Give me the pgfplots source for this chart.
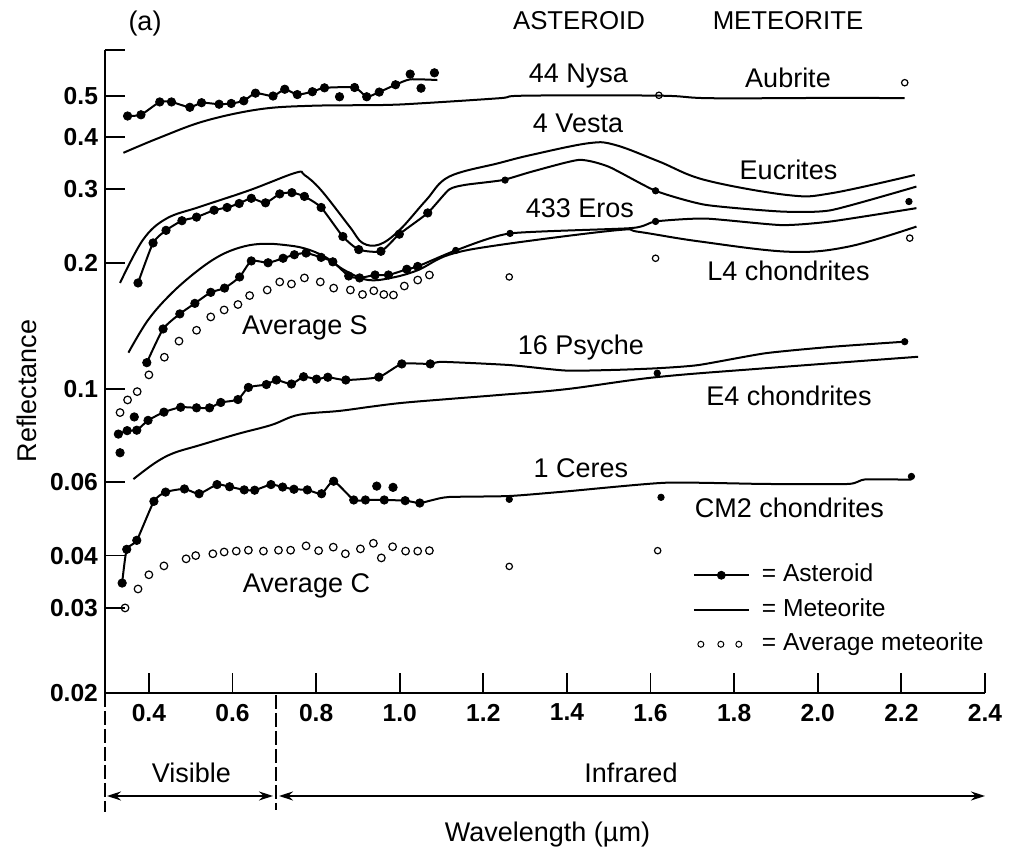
\documentclass[border=0pt]{standalone}
\usepackage{fontspec}
\setmainfont{Liberation Sans}
\usepackage{pgfplots}
\pgfplotsset{compat=1.18}
\usetikzlibrary{arrows.meta}
\newcommand{\tickfont}{\fontsize{12.3}{14}\selectfont\bfseries}
\newcommand{\lblfont}{\fontsize{13.5}{16}\selectfont}
\newcommand{\capfont}{\fontsize{12.9}{15}\selectfont}
\newcommand{\legfont}{\fontsize{12.3}{14}\selectfont}
\pgfplotsset{
  acurve/.style={black, line width=1pt, no markers, smooth, tension=0.35},
  mcurve/.style={black, line width=1pt, no markers, smooth, tension=0.6},
  dots/.style={black, only marks, mark=*, mark size=2.1pt},
  rdots/.style={black, only marks, mark=*, mark size=1.6pt},
  odots/.style={black, only marks, mark=o, mark size=1.9pt, mark options={line width=0.6pt}},
  rodots/.style={black, only marks, mark=o, mark size=1.6pt, mark options={line width=0.6pt}},
}
\begin{document}
\begin{tikzpicture}
\useasboundingbox (0,0) rectangle (509.5pt,427.5pt);
\begin{axis}[
  at={(52.5pt,81pt)}, anchor=south west,
  scale only axis, width=440pt, height=321.5pt,
  xmin=0.295, xmax=2.4, ymin=0.0188, ymax=0.644, ymode=log,
  axis x line=bottom, axis y line=left,
  axis line style={line width=1pt, -},
  xtick={0.4,0.6,0.8,1.0,1.2,1.4,1.6,1.8,2.0,2.2,2.4},
  xticklabels={0.4,0.6,0.8,1.0,1.2,1.4,1.6,1.8,2.0,2.2,2.4},
  ytick={0.0188,0.03,0.04,0.06,0.1,0.2,0.3,0.4,0.5,0.644},
  yticklabels={0.02,0.03,0.04,0.06,0.1,0.2,0.3,0.4,0.5,{}},
  yminorticks=false, xminorticks=false,
  tick align=inside, major tick length=10pt,
  tick style={black, line width=0.9pt},
  tick label style={font=\tickfont},
  xticklabel style={yshift=-2pt},
  clip=false,
  legend style={at={(0.668,0.201)}, anchor=north west, draw=none, fill=none,
    inner sep=0pt, outer sep=0pt, font=\legfont, row sep=5.75pt, column sep=6pt,
    nodes={inner sep=0pt, text height=9pt, text depth=2.5pt}},
  legend cell align=left,
]
\addlegendimage{legend image code/.code={\draw[black,line width=1pt] (0pt,0pt) -- (27.5pt,0pt); \fill[black] (13.75pt,0pt) circle (2pt);}}
\addlegendentry{= Asteroid}
\addlegendimage{legend image code/.code={\draw[black,line width=1pt] (0pt,0pt) -- (27.5pt,0pt);}}
\addlegendentry{= Meteorite}
\addlegendimage{legend image code/.code={\draw[black,line width=0.5pt] (3.5pt,0pt) circle (1.5pt) (13.5pt,0pt) circle (1.5pt) (22.5pt,0pt) circle (1.5pt);}}
\addlegendentry{= Average meteorite}

% ---- 44 Nysa (asteroid)
\addplot[acurve] table {
0.349 0.448
0.381 0.451
0.426 0.484
0.454 0.484
0.498 0.470
0.526 0.482
0.568 0.478
0.597 0.480
0.627 0.487
0.655 0.508
0.697 0.500
0.725 0.519
0.755 0.504
0.791 0.512
0.820 0.523
0.892 0.524
0.921 0.498
0.951 0.511
0.990 0.532
1.025 0.548
1.090 0.546
};
\addplot[dots] table {
0.349 0.448
0.381 0.451
0.426 0.484
0.454 0.484
0.498 0.470
0.526 0.482
0.568 0.478
0.597 0.480
0.627 0.487
0.655 0.508
0.697 0.500
0.725 0.519
0.755 0.504
0.791 0.512
0.820 0.523
0.856 0.498
0.892 0.524
0.921 0.498
0.951 0.511
0.990 0.532
1.025 0.564
1.051 0.522
1.083 0.568
};
% ---- Aubrite (meteorite)
\addplot[mcurve] table {
0.339 0.366
0.426 0.398
0.534 0.436
0.665 0.465
0.791 0.474
0.963 0.476
1.060 0.481
1.238 0.494
1.301 0.501
1.620 0.501
1.746 0.494
2.056 0.495
2.208 0.494
};
\addplot[rodots] table {
1.620 0.502
2.208 0.538
};
% ---- Eucrites (meteorite)
\addplot[mcurve] table {
0.331 0.179
0.386 0.227
0.442 0.255
0.522 0.272
0.641 0.298
0.751 0.328
0.772 0.324
0.812 0.298
0.880 0.244
0.911 0.223
0.951 0.221
0.999 0.239
1.063 0.282
1.118 0.321
1.238 0.346
1.316 0.362
1.453 0.386
1.516 0.382
1.620 0.349
1.731 0.315
1.930 0.290
2.032 0.293
2.232 0.324
};
% ---- 4 Vesta (asteroid)
\addplot[acurve] table {
0.374 0.179
0.410 0.223
0.441 0.239
0.479 0.252
0.514 0.257
0.556 0.267
0.587 0.271
0.616 0.277
0.645 0.285
0.679 0.278
0.713 0.292
0.742 0.294
0.772 0.288
0.812 0.271
0.864 0.231
0.902 0.215
0.955 0.213
0.999 0.234
1.067 0.263
1.118 0.299
1.158 0.307
1.246 0.315
1.316 0.330
1.429 0.352
1.500 0.339
1.612 0.297
1.731 0.275
1.913 0.265
2.032 0.267
2.236 0.304
};
\addplot[dots] table {
0.374 0.179
0.410 0.223
0.441 0.239
0.479 0.252
0.514 0.257
0.556 0.267
0.587 0.271
0.616 0.277
0.645 0.285
0.679 0.278
0.713 0.292
0.742 0.294
0.772 0.288
0.812 0.271
0.864 0.231
0.902 0.215
0.955 0.213
0.999 0.234
1.067 0.263
};
\addplot[rdots] table {
1.252 0.315
1.612 0.297
2.218 0.280
};
% ---- 433 Eros (asteroid)
\addplot[acurve] table {
0.395 0.1155
0.434 0.139
0.474 0.151
0.510 0.160
0.548 0.170
0.581 0.174
0.617 0.185
0.645 0.202
0.685 0.200
0.721 0.205
0.748 0.209
0.776 0.211
0.812 0.206
0.840 0.201
0.878 0.186
0.904 0.184
0.941 0.187
0.973 0.187
1.017 0.193
1.043 0.196
1.134 0.214
1.264 0.235
1.555 0.242
1.612 0.251
1.731 0.255
1.913 0.246
2.032 0.251
2.236 0.270
};
\addplot[dots] table {
0.395 0.1155
0.434 0.139
0.474 0.151
0.510 0.160
0.548 0.170
0.581 0.174
0.617 0.185
0.645 0.202
0.685 0.200
0.721 0.205
0.748 0.209
0.776 0.211
0.812 0.206
0.840 0.201
0.878 0.186
0.904 0.184
0.941 0.187
0.973 0.187
1.017 0.193
1.043 0.196
};
\addplot[rdots] table {
1.134 0.214
1.264 0.235
1.612 0.251
};
% ---- L4 chondrites (meteorite)
\addplot[mcurve] table {
0.351 0.122
0.398 0.146
0.454 0.169
0.518 0.192
0.574 0.209
0.629 0.219
0.677 0.222
0.725 0.2205
0.772 0.2165
0.820 0.207
0.868 0.192
0.923 0.182
0.979 0.184
1.043 0.192
1.118 0.209
1.238 0.2205
1.516 0.239
1.572 0.237
1.715 0.225
1.930 0.2125
2.073 0.2185
2.236 0.244
};
% ---- Average S (average meteorite)
\addplot[odots] table {
0.331 0.0878
0.349 0.0941
0.372 0.0985
0.400 0.108
0.437 0.119
0.472 0.130
0.514 0.138
0.548 0.1485
0.580 0.1543
0.613 0.159
0.641 0.167
0.683 0.1722
0.713 0.180
0.741 0.178
0.772 0.184
0.810 0.180
0.842 0.174
0.882 0.1722
0.911 0.168
0.938 0.1715
0.962 0.168
0.985 0.1675
1.011 0.176
1.043 0.1819
1.071 0.187
};
\addplot[rodots] table {
1.262 0.185
1.612 0.205
2.220 0.229
};
% ---- 16 Psyche (asteroid)
\addplot[acurve] table {
0.327 0.078
0.348 0.0795
0.371 0.0797
0.398 0.0841
0.436 0.088
0.476 0.0904
0.514 0.0901
0.545 0.0901
0.572 0.0928
0.613 0.0943
0.638 0.1008
0.681 0.1024
0.705 0.1050
0.741 0.1027
0.770 0.1069
0.801 0.1055
0.828 0.1066
0.871 0.1050
0.950 0.1067
1.005 0.1147
1.073 0.1147
1.102 0.116
1.262 0.114
1.397 0.1106
1.516 0.1110
1.616 0.1120
1.715 0.114
1.874 0.1216
2.033 0.126
2.208 0.1296
};
\addplot[dots] table {
0.331 0.0704
0.327 0.078
0.348 0.0795
0.365 0.0857
0.371 0.0797
0.398 0.0841
0.436 0.088
0.476 0.0904
0.514 0.0901
0.545 0.0901
0.572 0.0928
0.613 0.0943
0.638 0.1008
0.681 0.1024
0.705 0.1050
0.741 0.1027
0.770 0.1069
0.801 0.1055
0.828 0.1066
0.871 0.1050
0.950 0.1067
1.005 0.1147
1.073 0.1147
};
\addplot[rdots] table {
1.616 0.109
2.208 0.1296
};
% ---- E4 chondrites (meteorite)
\addplot[mcurve] table {
0.363 0.0609
0.414 0.0665
0.458 0.0702
0.522 0.0734
0.613 0.0781
0.693 0.0820
0.758 0.0867
0.856 0.0886
0.932 0.0907
1.006 0.0926
1.118 0.0946
1.238 0.0967
1.397 0.0998
1.612 0.1066
1.874 0.1120
2.240 0.1193
};
% ---- 1 Ceres (asteroid) / CM2 chondrites
\addplot[acurve] table {
0.336 0.0344
0.347 0.0414
0.371 0.0435
0.412 0.0539
0.440 0.0567
0.485 0.0577
0.520 0.0562
0.563 0.0591
0.593 0.0584
0.628 0.0574
0.653 0.0573
0.692 0.0591
0.720 0.0583
0.747 0.0576
0.779 0.0574
0.813 0.0562
0.842 0.0602
0.890 0.0543
0.918 0.0543
0.963 0.0543
1.013 0.0541
1.048 0.0534
1.079 0.0543
1.118 0.0552
1.262 0.0555
1.397 0.0569
1.636 0.0597
1.874 0.0593
2.073 0.0593
2.113 0.0608
2.224 0.0607
};
\addplot[dots] table {
0.336 0.0344
0.347 0.0414
0.371 0.0435
0.412 0.0539
0.440 0.0567
0.485 0.0577
0.520 0.0562
0.563 0.0591
0.593 0.0584
0.628 0.0574
0.653 0.0573
0.692 0.0591
0.720 0.0583
0.747 0.0576
0.779 0.0574
0.813 0.0562
0.842 0.0602
0.890 0.0543
0.918 0.0543
0.963 0.0543
1.013 0.0541
1.048 0.0534
0.945 0.0586
0.984 0.0582
};
\addplot[rdots] table {
1.262 0.0545
1.625 0.0551
2.224 0.0618
};
% ---- Average C (average meteorite)
\addplot[odots] table {
0.343 0.0300
0.374 0.0333
0.400 0.0360
0.436 0.0378
0.489 0.0393
0.512 0.0400
0.553 0.0404
0.580 0.0408
0.609 0.0410
0.638 0.0412
0.674 0.0410
0.710 0.0412
0.739 0.0412
0.776 0.0422
0.806 0.0411
0.841 0.0419
0.870 0.0404
0.906 0.0415
0.937 0.0428
0.956 0.0395
0.983 0.0420
1.014 0.0410
1.043 0.0410
1.071 0.0411
};
\addplot[rodots] table {
1.262 0.0377
1.617 0.0411
};
\end{axis}

\begin{scope}[x=0.5pt, y=-0.5pt, yshift=427.5pt]
  \node[font=\lblfont, anchor=base] at (145,31) {(a)};
  \node[font=\capfont, anchor=base] at (579,30) {ASTEROID};
  \node[font=\capfont, anchor=base] at (788,30) {METEORITE};
  \node[font=\lblfont, anchor=base] at (578.5,83) {44 Nysa};
  \node[font=\lblfont, anchor=base] at (788,88) {Aubrite};
  \node[font=\lblfont, anchor=base] at (578,133) {4 Vesta};
  \node[font=\lblfont, anchor=base] at (788.5,180) {Eucrites};
  \node[font=\lblfont, anchor=base] at (580,218) {433 Eros};
  \node[font=\lblfont, anchor=base] at (788.5,281) {L4 chondrites};
  \node[font=\lblfont, anchor=base] at (305,335) {Average S};
  \node[font=\lblfont, anchor=base] at (581,355) {16 Psyche};
  \node[font=\lblfont, anchor=base] at (789,406) {E4 chondrites};
  \node[font=\lblfont, anchor=base] at (581,478) {1 Ceres};
  \node[font=\lblfont, anchor=base] at (789.5,518) {CM2 chondrites};
  \node[font=\lblfont, anchor=base] at (306.5,593) {Average C};
  \node[font=\lblfont, anchor=base, rotate=90] at (37,391) {Reflectance};
  \node[font=\lblfont, anchor=base] at (191.5,783) {Visible};
  \node[font=\lblfont, anchor=base] at (631,783) {Infrared};
  \node[font=\lblfont, anchor=base] at (547.5,842) {Wavelength (µm)};
  \draw[black, line width=0.6pt, dash pattern=on 7pt off 2pt] (105,693) -- (105,812);
  \draw[black, line width=0.6pt, dash pattern=on 7pt off 2pt] (276,695) -- (276,810);
  \draw[black, line width=0.7pt, {Stealth[length=7pt,width=4.5pt]}-{Stealth[length=7pt,width=4.5pt]}] (107,796) -- (273,796);
  \draw[black, line width=0.7pt, {Stealth[length=7pt,width=4.5pt]}-{Stealth[length=7pt,width=4.5pt]}] (279,796) -- (985,796);
\end{scope}
\end{tikzpicture}
\end{document}
